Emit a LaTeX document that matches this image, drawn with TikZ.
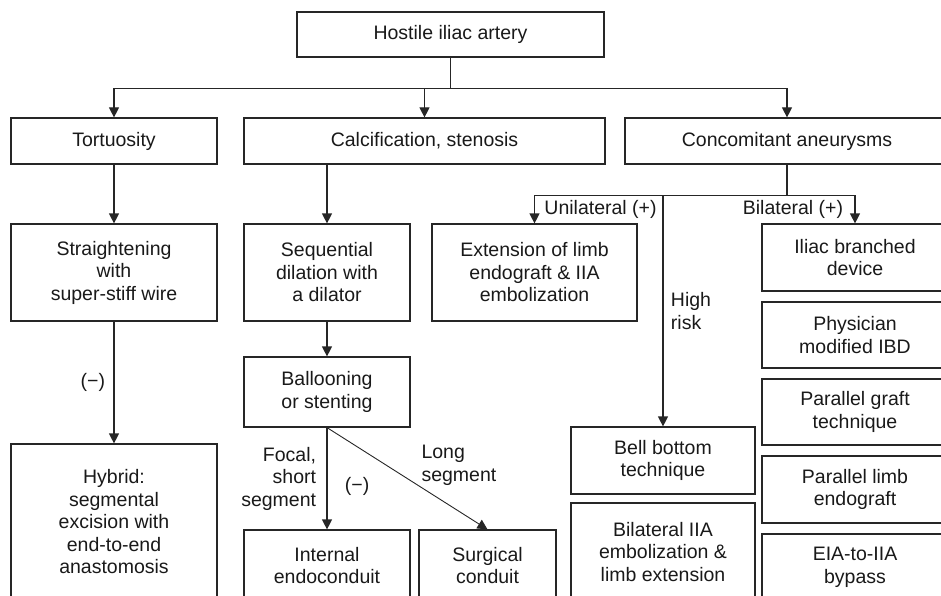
\documentclass[tikz,border=0pt]{standalone}
\usepackage{fontspec}
\setmainfont{Liberation Sans}
\usepackage{tikz}
\usetikzlibrary{positioning,arrows.meta}

\begin{document}
\begin{tikzpicture}[x=1pt, y=-1pt,
    every node/.style={font=\fontsize{19.5}{22.5}\selectfont, text=black!90},
    box/.style 2 args={draw=black!85, line width=1.2pt, align=center, inner sep=0pt, minimum width=#1, minimum height=#2},
    arr/.style={-{Triangle[length=10pt,width=10pt]}, line width=1.2pt, draw=black!85},
    line/.style={line width=1.2pt, draw=black!85}]
    \useasboundingbox (0,0) rectangle (941,596);
    \clip (0,0) rectangle (941,596);
    % Nodes
    \node[box={307pt}{45pt}] (hostile) at (450.5,34.5) {Hostile iliac artery};
    \node[box={206pt}{46pt}] (tort) at (114,141) {Tortuosity};
    \node[box={361pt}{46pt}] (calc) at (424.5,141) {Calcification, stenosis};
    \node[box={324pt}{46pt}] (conc) at (787,141) {Concomitant aneurysms};

    \node[box={206pt}{97pt}] (straight) at (114,272.5) {Straightening\\with\\super-stiff wire};
    \node[box={206pt}{156pt}] (hybrid) at (114,522) {Hybrid:\\segmental\\excision with\\end-to-end\\anastomosis};

    \node[box={166pt}{97pt}] (seq) at (327,272.5) {Sequential\\dilation with\\a dilator};
    \node[box={166pt}{70pt}] (ball) at (327,392) {Ballooning\\or stenting};
    \node[box={166pt}{71pt}] (internal) at (327,565.5) {Internal\\endoconduit};
    \node[box={137pt}{71pt}] (surgical) at (487.5,565.5) {Surgical\\conduit};

    \node[box={205pt}{97pt}] (ext) at (534.5,272.5) {Extension of limb\\endograft \& IIA\\embolization};
    \node[box={184pt}{67pt}] (bell) at (663,460.5) {Bell bottom\\technique};
    \node[box={184pt}{98pt}] (bilIIA) at (663,552) {Bilateral IIA\\embolization \&\\limb extension};

    \node[box={186pt}{67pt}] (iliac) at (855,257.5) {Iliac branched\\device};
    \node[box={186pt}{66pt}] (phys) at (855,335) {Physician\\modified IBD};
    \node[box={186pt}{66pt}] (pgraft) at (855,412) {Parallel graft\\technique};
    \node[box={186pt}{67pt}] (plimb) at (855,489.5) {Parallel limb\\endograft};
    \node[box={186pt}{67pt}] (eia) at (855,567.5) {EIA-to-IIA\\bypass};

    \coordinate[below=31pt of hostile.south] (split);
    \coordinate[below=31pt of conc.south] (split2);

    % Arrows
    \draw[line] (hostile) -- (split);
    \draw[arr] (split) -| (tort.north);
    \draw[arr] (split) -| (calc.north);
    \draw[arr] (split) -| (conc.north);

    \draw[arr] (tort) -- (straight);
    \draw[arr] (straight) -- node[left=5pt] {(−)} (hybrid);

    \draw[arr] (calc.south -| seq.north) -- (seq.north);
    \draw[arr] (seq) -- (ball);
    \draw[arr] (ball) -- node[left=7pt, align=right] {Focal,\\short\\segment} node[pos=0.58, right=14pt] {(−)} (internal);
    \draw[arr, line width=0.9pt] (ball.south) -- node[pos=0.58, anchor=south west, align=left, inner sep=1pt] {Long\\segment} (surgical.north);

    \draw[line] (conc) -- (split2);
    \draw[arr] (split2) -| node[pos=0.75, right=6pt] {Unilateral (+)} (ext.north);
    \draw[arr] (split2) -| node[pos=0.75, left=8pt] {Bilateral (+)} (iliac.north);
    \draw[arr] (split2 -| bell.north) -- node[right=4pt, align=left] {High\\risk} (bell.north);
\end{tikzpicture}
\end{document}
